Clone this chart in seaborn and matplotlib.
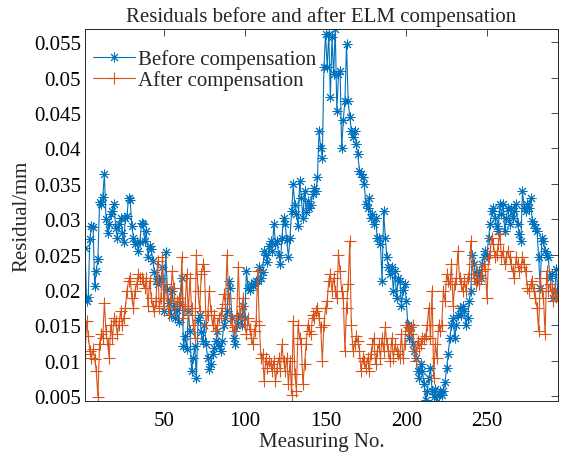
import matplotlib
matplotlib.use("Agg")
import matplotlib.pyplot as plt
import matplotlib.ticker as mticker
import numpy as np
import pandas as pd
import seaborn as sns

# ---------------- data ----------------
measuring_no = list(range(1, 295))

before = [
    0.0259, 0.0184, 0.0190, 0.0272, 0.0290, 0.0289, 0.0206, 0.0227, 0.0243, 0.0324,
    0.0321, 0.0331, 0.0364, 0.0300, 0.0281, 0.0293, 0.0307, 0.0312, 0.0321, 0.0288,
    0.0274, 0.0293, 0.0302, 0.0281, 0.0267, 0.0302, 0.0305, 0.0330, 0.0327, 0.0290,
    0.0274, 0.0265, 0.0267, 0.0255, 0.0267, 0.0295, 0.0293, 0.0269, 0.0283, 0.0246,
    0.0262, 0.0258, 0.0241, 0.0225, 0.0213, 0.0208, 0.0215, 0.0217, 0.0232, 0.0170,
    0.0253, 0.0201, 0.0182, 0.0165,
    0.0199, 0.0175, 0.0160, 0.0172, 0.0155, 0.0180, 0.0217, 0.0120, 0.0135, 0.0116,
    0.0170, 0.0142, 0.0085, 0.0104, 0.0120, 0.0076, 0.0158, 0.0165, 0.0140, 0.0128,
    0.0150, 0.0123, 0.0104, 0.0088, 0.0095, 0.0109, 0.0118, 0.0128, 0.0142, 0.0120,
    0.0113, 0.0128, 0.0151, 0.0160, 0.0170, 0.0212, 0.0203, 0.0160, 0.0132, 0.0123,
    0.0151, 0.0160, 0.0165, 0.0150, 0.0177, 0.0160, 0.0227, 0.0203, 0.0200, 0.0208,
    0.0205, 0.0210, 0.0212, 0.0213, 0.0232, 0.0217, 0.0225, 0.0255, 0.0250, 0.0240,
    0.0262, 0.0269, 0.0255, 0.0293, 0.0265, 0.0269, 0.0250, 0.0236, 0.0274, 0.0302,
    0.0293, 0.0270, 0.0246, 0.0274, 0.0311, 0.0349, 0.0320, 0.0307, 0.0290, 0.0354,
    0.0330, 0.0302, 0.0340, 0.0310, 0.0326, 0.0316, 0.0320, 0.0335, 0.0344, 0.0340,
    0.0359, 0.0425, 0.0401, 0.0387, 0.0515, 0.0562, 0.0515, 0.0562, 0.0472, 0.0557,
    0.0505, 0.0569, 0.0453, 0.0505, 0.0510, 0.0401, 0.0440, 0.0467, 0.0548, 0.0467,
    0.0444, 0.0425, 0.0416, 0.0425, 0.0406, 0.0392, 0.0368, 0.0364, 0.0359, 0.0349,
    0.0321, 0.0316, 0.0330, 0.0302, 0.0307, 0.0293, 0.0302, 0.0274, 0.0274, 0.0265,
    0.0213, 0.0311, 0.0274, 0.0246, 0.0232, 0.0222, 0.0232, 0.0199, 0.0227, 0.0189,
    0.0217, 0.0213, 0.0177, 0.0200, 0.0208, 0.0184, 0.0151, 0.0132, 0.0147, 0.0123,
    0.0113, 0.0104, 0.0085, 0.0076, 0.0095, 0.0085, 0.0067, 0.0045, 0.0057, 0.0076,
    0.0090, 0.0057, 0.0048, 0.0060, 0.0043, 0.0052, 0.0057, 0.0052, 0.0057, 0.0070,
    0.0090, 0.0109, 0.0132, 0.0151, 0.0160, 0.0132, 0.0151, 0.0165, 0.0175, 0.0165,
    0.0177, 0.0170, 0.0151, 0.0160, 0.0184, 0.0199, 0.0250, 0.0236, 0.0222, 0.0213,
    0.0227, 0.0217, 0.0236, 0.0246, 0.0255, 0.0250, 0.0274, 0.0293, 0.0311, 0.0316,
    0.0302, 0.0290, 0.0283, 0.0321, 0.0307, 0.0321, 0.0283, 0.0302, 0.0316, 0.0293,
    0.0316, 0.0302, 0.0311, 0.0321, 0.0293, 0.0279, 0.0269, 0.0340, 0.0316, 0.0311,
    0.0321, 0.0316, 0.0330, 0.0298, 0.0293, 0.0288, 0.0283, 0.0246, 0.0203, 0.0274,
    0.0269, 0.0255, 0.0250, 0.0246, 0.0217, 0.0222, 0.0189, 0.0200, 0.0230, 0.0189,
]

after = [
    0.0109, 0.0156, 0.0135, 0.0114, 0.0104, 0.0116, 0.0102, 0.0085, 0.0048, 0.0123,
    0.0137, 0.0132, 0.0182, 0.0142, 0.0123, 0.0104, 0.0151, 0.0132, 0.0160, 0.0156,
    0.0137, 0.0151, 0.0170, 0.0151, 0.0160, 0.0175, 0.0199, 0.0213, 0.0217, 0.0189,
    0.0175, 0.0199, 0.0208, 0.0222, 0.0217, 0.0217, 0.0213, 0.0203, 0.0217, 0.0177,
    0.0213, 0.0189, 0.0177, 0.0170, 0.0184, 0.0241, 0.0175, 0.0189, 0.0246, 0.0177,
    0.0208, 0.0189, 0.0165, 0.0189,
    0.0227, 0.0203, 0.0175, 0.0184, 0.0189, 0.0180, 0.0246, 0.0160, 0.0177, 0.0222,
    0.0165, 0.0217, 0.0175, 0.0151, 0.0132, 0.0250, 0.0199, 0.0170, 0.0222, 0.0236,
    0.0227, 0.0151, 0.0165, 0.0199, 0.0170, 0.0151, 0.0165, 0.0142, 0.0151, 0.0160,
    0.0165, 0.0175, 0.0194, 0.0180, 0.0250, 0.0189, 0.0160, 0.0151, 0.0142, 0.0147,
    0.0165, 0.0232, 0.0160, 0.0177, 0.0189, 0.0151, 0.0137, 0.0160, 0.0145, 0.0132,
    0.0123, 0.0142, 0.0156, 0.0227, 0.0150, 0.0104, 0.0109, 0.0071, 0.0104, 0.0090,
    0.0100, 0.0095, 0.0085, 0.0100, 0.0071, 0.0090, 0.0104, 0.0085, 0.0123, 0.0100,
    0.0085, 0.0104, 0.0067, 0.0100, 0.0052, 0.0156, 0.0081, 0.0057, 0.0151, 0.0132,
    0.0123, 0.0067, 0.0095, 0.0123, 0.0151, 0.0142, 0.0137, 0.0165, 0.0160, 0.0170,
    0.0175, 0.0160, 0.0147, 0.0100, 0.0151, 0.0175, 0.0184, 0.0213, 0.0222, 0.0199,
    0.0217, 0.0199, 0.0189, 0.0250, 0.0227, 0.0199, 0.0189, 0.0114, 0.0175, 0.0208,
    0.0269, 0.0151, 0.0114, 0.0123, 0.0135, 0.0128, 0.0114, 0.0085, 0.0104, 0.0100,
    0.0090, 0.0104, 0.0085, 0.0109, 0.0123, 0.0132, 0.0095, 0.0114, 0.0123, 0.0104,
    0.0132, 0.0114, 0.0147, 0.0123, 0.0114, 0.0100, 0.0132, 0.0104, 0.0123, 0.0114,
    0.0110, 0.0104, 0.0137, 0.0104, 0.0123, 0.0151, 0.0142, 0.0147, 0.0137, 0.0151,
    0.0114, 0.0100, 0.0128, 0.0118, 0.0123, 0.0132, 0.0130, 0.0135, 0.0151, 0.0175,
    0.0132, 0.0199, 0.0076, 0.0123, 0.0104, 0.0151, 0.0142, 0.0151, 0.0199, 0.0184,
    0.0222, 0.0213, 0.0208, 0.0236, 0.0177, 0.0208, 0.0217, 0.0255, 0.0217, 0.0208,
    0.0199, 0.0213, 0.0199, 0.0217, 0.0222, 0.0269, 0.0236, 0.0217, 0.0208, 0.0222,
    0.0208, 0.0217, 0.0227, 0.0236, 0.0230, 0.0189, 0.0246, 0.0255, 0.0274, 0.0265,
    0.0246, 0.0250, 0.0265, 0.0279, 0.0246, 0.0255, 0.0236, 0.0246, 0.0255, 0.0246,
    0.0236, 0.0227, 0.0217, 0.0246, 0.0236, 0.0227, 0.0232, 0.0246, 0.0236, 0.0227,
    0.0203, 0.0199, 0.0208, 0.0213, 0.0199, 0.0189, 0.0175, 0.0142, 0.0217, 0.0199,
    0.0189, 0.0138, 0.0227, 0.0199, 0.0208, 0.0199, 0.0184, 0.0200, 0.0190, 0.0184,
]

series_names = ["Before compensation", "After compensation"]
x_ticks = [50, 100, 150, 200, 250]
y_ticks = [0.005, 0.01, 0.015, 0.02, 0.025, 0.03, 0.035, 0.04, 0.045, 0.05, 0.055]
y_tick_labels = ["0.005", "0.01", "0.015", "0.02", "0.025", "0.03",
                 "0.035", "0.04", "0.045", "0.05", "0.055"]
title_text = "Residuals before and after ELM compensation"
x_label = "Measuring No."
y_label = "Residual/mm"

# ---------------- style ----------------
sns.set_theme(style="white")
plt.rcParams['font.family'] = ['Liberation Serif', 'DejaVu Serif']
plt.rcParams['axes.edgecolor'] = '#262626'
plt.rcParams['axes.linewidth'] = 0.7

FS = 15
blue = "#0072BD"
orange = "#D95319"

df = pd.DataFrame({"No": measuring_no, "Before": before, "After": after})

fig = plt.figure(figsize=(5.64, 4.56), dpi=100)
ax = fig.add_axes([85 / 564, 54 / 456, 473 / 564, 372 / 456])

sns.lineplot(data=df, x="No", y="Before", ax=ax, color=blue, lw=0.8,
             marker=(8, 2, 0), markersize=7, markeredgewidth=0.7,
             markeredgecolor=blue, label=series_names[0], errorbar=None)
sns.lineplot(data=df, x="No", y="After", ax=ax, color=orange, lw=0.8,
             marker="+", markersize=9, markeredgewidth=0.8,
             markeredgecolor=orange, label=series_names[1], errorbar=None)

ax.set_xlim(1, 294)
ax.set_ylim(0.00429, 0.05688)
ax.set_xticks(x_ticks)
ax.set_yticks(y_ticks)
ax.yaxis.set_major_formatter(mticker.FixedFormatter(y_tick_labels))
ax.tick_params(axis='both', direction='in', length=5, width=0.6,
               color='#262626', labelsize=FS, labelcolor='black',
               top=True, right=True)
ax.tick_params(axis='x', pad=7)
ax.tick_params(axis='y', pad=3)
for s in ax.spines.values():
    s.set_visible(True)
    s.set_color('#262626')

ax.set_title(title_text, fontsize=FS, pad=6)
ax.set_xlabel(x_label, fontsize=FS, labelpad=2)
ax.set_ylabel(y_label, fontsize=FS, labelpad=2)

leg = ax.legend(loc='upper left', bbox_to_anchor=(8 / 473, 1 - 20 / 372),
                frameon=False, fontsize=FS, handlelength=2.0,
                handletextpad=0.15, labelspacing=0.05, borderpad=0,
                borderaxespad=0)

fig.savefig("out.png", dpi=100)
